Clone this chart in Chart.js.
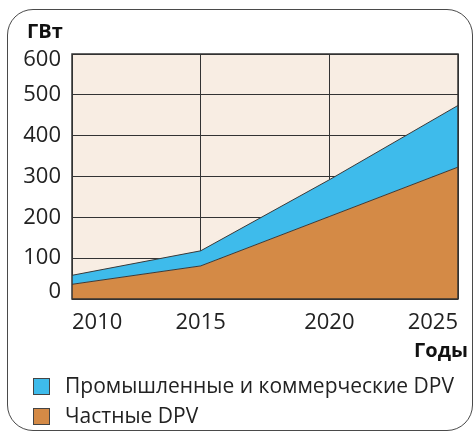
<!DOCTYPE html>
<html>
<head>
<meta charset="utf-8">
<script src="https://cdn.jsdelivr.net/npm/chart.js@4.4.1/dist/chart.umd.min.js"></script>
<style>
  html, body { margin: 0; padding: 0; background: #fff; }
  #wrap { position: relative; width: 474px; height: 432px; overflow: hidden; }
  #frame {
    position: absolute; left: 7px; top: 9px; width: 466px; height: 422px;
    border: 1.5px solid #4a4a4a; border-radius: 26px; box-sizing: border-box;
  }
  canvas { position: absolute; left: 0; top: 0; }
  .lbl { position: absolute; font: bold 20px "Open Sans", sans-serif; color: #111; line-height: 24px; }
  .leg { position: absolute; left: 33px; font: 21px "Open Sans", sans-serif; color: #222; line-height: 30px; white-space: nowrap; }
  .leg span {
    display: inline-block; width: 17px; height: 17px; box-sizing: border-box;
    border: 1px solid #444; vertical-align: -2px; margin-right: 15px;
  }
</style>
</head>
<body>
<div id="wrap">
  <div id="frame"></div>
  <canvas id="chart" width="474" height="432"></canvas>
  <div class="lbl" style="left:27px; top:19px">ГВт</div>
  <div class="lbl" style="right:6px; top:338px">Годы</div>
  <div class="leg" style="top:370px"><span style="background:#3ebbeb"></span>Промышленные и коммерческие DPV</div>
  <div class="leg" style="top:400px"><span style="background:#d48a46"></span>Частные DPV</div>
</div>
<script>
// Годы и значения, ГВт
const years = [2010, 2015, 2020, 2025];
const privateDPV = [36, 81, 202, 323];       // Частные DPV
const commercialDPV = [22, 37, 90, 151];     // Промышленные и коммерческие DPV (поверх частных)
const yTicks = [0, 100, 200, 300, 400, 500, 600];

const FONT = '"Open Sans", sans-serif';
const yMin = yTicks[0], yMax = yTicks[yTicks.length - 1];

const plotBg = {
    id: 'plotBg',
    beforeDraw(chart) {
        const a = chart.chartArea, c = chart.ctx;
        c.save();
        c.fillStyle = '#f8ede3';
        c.fillRect(a.left, a.top, a.right - a.left, a.bottom - a.top);
        c.restore();
    },
    afterDatasetsDraw(chart) {
        const a = chart.chartArea, c = chart.ctx;
        c.save();
        c.strokeStyle = '#333';
        c.lineWidth = 1.5;
        c.strokeRect(a.left, a.top, a.right - a.left, a.bottom - a.top);
        c.restore();
    }
};

new Chart(document.getElementById('chart'), {
    type: 'line',
    data: {
        datasets: [{
            label: 'Частные DPV',
            data: years.map((x, i) => ({ x: x, y: privateDPV[i] })),
            backgroundColor: '#d48a46',
            borderColor: '#3a3a3a',
            borderWidth: 1,
            fill: 'origin'
        }, {
            label: 'Промышленные и коммерческие DPV',
            data: years.map((x, i) => ({ x: x, y: commercialDPV[i] })),
            backgroundColor: '#3ebbeb',
            borderColor: '#3a3a3a',
            borderWidth: 1,
            fill: '-1'
        }]
    },
    options: {
        responsive: false,
        devicePixelRatio: 1,
        animation: false,
        elements: { point: { radius: 0 }, line: { tension: 0 } },
        // x-ось занимает высоту 22 + 2*13 = 48, низ области графика ~299
        layout: { padding: { left: 0, right: 16, top: 54, bottom: 85 } },
        plugins: {
            legend: { display: false },
            tooltip: { enabled: false }
        },
        scales: {
            x: {
                type: 'linear',
                min: years[0],
                max: years[years.length - 1],
                grid: { color: '#333', lineWidth: 1, drawTicks: false },
                border: { display: false },
                ticks: {
                    stepSize: 5,
                    align: 'inner',
                    padding: 13,
                    color: '#222',
                    font: { family: FONT, size: 22, lineHeight: 1 },
                    callback: v => String(v)
                }
            },
            y: {
                stacked: true,
                min: yMin,
                max: yMax,
                afterFit(scale) { scale.width = 72; },
                afterBuildTicks(scale) { scale.ticks = yTicks.map(v => ({ value: v })); },
                grid: { color: '#333', lineWidth: 1, drawTicks: false },
                border: { display: false },
                ticks: {
                    padding: 11,
                    color: '#222',
                    // крайние подписи сдвинуты внутрь области графика, как в оригинале
                    callback: v => v === yMax ? ['', String(v)] : v === yMin ? [String(v), ''] : String(v),
                    font: ctx => {
                        const v = ctx.tick ? ctx.tick.value : null;
                        return { family: FONT, size: 22, lineHeight: v === yMax ? '12px' : v === yMin ? '14px' : 1.2 };
                    }
                }
            }
        }
    },
    plugins: [plotBg]
});
</script>
</body>
</html>
